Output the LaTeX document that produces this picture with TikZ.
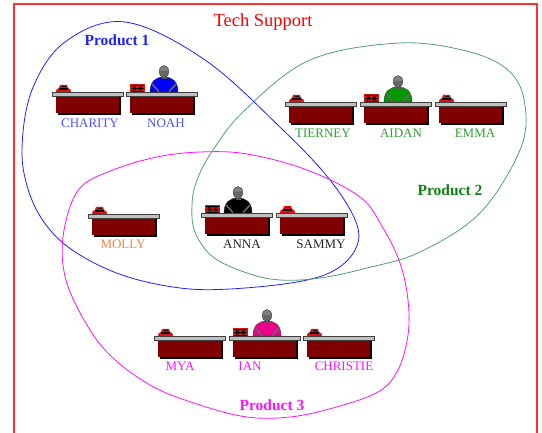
\documentclass[tikz,border=0pt]{standalone}
\usepackage{fontspec}
\setmainfont{Liberation Serif}
\definecolor{deskred}{HTML}{800000}
\definecolor{deskgray}{HTML}{C0C0C0}
\definecolor{framered}{HTML}{FF3030}
\definecolor{pone}{HTML}{2020FF}
\definecolor{ponename}{HTML}{5050FF}
\definecolor{ptwo}{HTML}{108010}
\definecolor{ptwoname}{HTML}{30A030}
\definecolor{ptwoline}{HTML}{50A070}
\definecolor{pthree}{HTML}{FF10FF}
\definecolor{mollyc}{HTML}{FF8040}
\definecolor{phonered}{HTML}{E01010}
\tikzset{
  pics/desk/.style={code={
    \fill[black] (6,5) rectangle (69,23);
    \fill[deskred] (4,4) rectangle (67,21.5);
    \fill[black!75] (0,0) rectangle (72,5);
    \fill[deskgray] (0.8,0.8) rectangle (71.2,3.8);
  }},
  pics/phone/.style={code={
    \fill[phonered] (0,0) -- (0.5,-2.5) -- (3,-4) -- (4,-7) -- (11,-7) -- (12,-4) -- (14.5,-2.5) -- (15,0) -- cycle;
    \fill[black] (3,-1.5) rectangle (12,-3.5);
    \fill[black] (5.5,-5) rectangle (9.5,-6);
  }},
  pics/register/.style={code={
    \fill[phonered] (0,0) rectangle (15,-8);
    \draw[black, line width=0.8] (1,-1) -- (14,-1) (1,-4) -- (14,-4) (1,-7) -- (14,-7);
    \draw[black, line width=0.8] (3,-1.5) -- (6,-6.5) (6,-1.5) -- (3,-6.5) (9,-1.5) -- (12,-6.5) (12,-1.5) -- (9,-6.5);
  }},
  pics/worker/.style={code={
    \fill[#1, draw=black!80, line width=0.4] (-14,0) .. controls (-14,-11) and (-8,-15) .. (0,-15) .. controls (8,-15) and (14,-11) .. (14,0) -- cycle;
    \draw[gray!80!black, line width=1.6] (-12,-8) -- (-5,-0.5) (12,-8) -- (5,-0.5);
    \fill[gray!70!black] (-2.5,-15.5) rectangle (2.5,-13);
    \fill[gray, draw=black!80, line width=0.4] (0,-20.5) ellipse [x radius=4.8, y radius=6];
    \fill[black!60] (-4.6,-21) arc[start angle=180, end angle=0, x radius=4.6, y radius=5.6] -- cycle;
  }},
  staffname/.style={font=\fontsize{13}{15}\selectfont, inner sep=0pt},
  prodlabel/.style={font=\bfseries\fontsize{15.5}{18}\selectfont, inner sep=0pt},
  grpline/.style={line width=0.8}
}
\begin{document}
\begin{tikzpicture}[x=1pt,y=-1pt]
\useasboundingbox (0,0) rectangle (542,433);
% outer frame
\draw[framered, line width=1.3] (14,433) -- (14,4) -- (537,4) -- (537,433);
\node[font=\fontsize{18.5}{21}\selectfont, text=red, inner sep=0pt] (title) at (263,22) {Tech Support};

% group outlines
\draw[grpline, pone] plot[smooth cycle, tension=0.6] coordinates {
  (125,22) (205,60) (283,130) (330,180) (356,222) (356,248) (335,270)
  (297,282) (230,289) (180,288) (125,276) (80,255) (50,230) (30,195)
  (22,150) (32,90) (65,42)};
\draw[grpline, ptwoline] plot[smooth cycle, tension=0.6] coordinates {
  (400,43) (470,52) (510,72) (525,105) (520,150) (480,213) (420,252)
  (367,268) (320,278) (280,280) (247,273) (213,257) (195,232) (192,205)
  (197,180) (213,150) (245,110) (310,60)};
\draw[grpline, pthree] plot[smooth cycle, tension=0.6] coordinates {
  (200,152) (247,154) (307,170) (360,197) (383,228) (400,263) (408,300)
  (408,335) (398,370) (378,392) (333,408) (290,417) (247,417) (200,405)
  (150,385) (105,350) (75,303) (63,265) (65,225) (80,188) (113,170) (157,157)};

\node[prodlabel, text=pone] (p1) at (117,40) {Product 1};
\node[prodlabel, text=ptwo] (p2) at (450,190) {Product 2};
\node[prodlabel, text=pthree] (p3) at (272,405) {Product 3};

% row 1
\pic at (52,92) {desk};  \pic at (56,92) {phone};
\pic at (126,92) {desk}; \pic at (130,92) {register}; \pic at (164,92) {worker=blue};
\node[staffname, text=ponename] (charity) at (90,123) {CHARITY};
\node[staffname, text=ponename] (noah) at (166,123) {NOAH};

% row 2
\pic at (285,102) {desk}; \pic at (289,102) {phone};
\pic at (360,102) {desk}; \pic at (364,102) {register}; \pic at (398,102) {worker={green!60!black}};
\pic at (435,102) {desk}; \pic at (439,102) {phone};
\node[staffname, text=ptwoname] (tierney) at (323,133) {TIERNEY};
\node[staffname, text=ptwoname] (aidan) at (401,133) {AIDAN};
\node[staffname, text=ptwoname] (emma) at (475,133) {EMMA};

% row 3
\pic at (88,214) {desk}; \pic at (92,214) {phone};
\pic at (201,213) {desk}; \pic at (205,213) {register}; \pic at (238,213) {worker=black};
\pic at (276,213) {desk}; \pic at (280,213) {phone};
\node[staffname, text=mollyc] (molly) at (123,244) {MOLLY};
\node[staffname, text=black!85] (anna) at (242,244) {ANNA};
\node[staffname, text=black!85] (sammy) at (321,244) {SAMMY};

% row 4
\pic at (154,336) {desk}; \pic at (158,336) {phone};
\pic at (229,336) {desk}; \pic at (233,336) {register}; \pic at (267,336) {worker=magenta};
\pic at (303,336) {desk}; \pic at (307,336) {phone};
\node[staffname, text=pthree] (mya) at (180,366) {MYA};
\node[staffname, text=pthree] (ian) at (250,366) {IAN};
\node[staffname, text=pthree] (christie) at (344,366) {CHRISTIE};
\end{tikzpicture}
\end{document}
